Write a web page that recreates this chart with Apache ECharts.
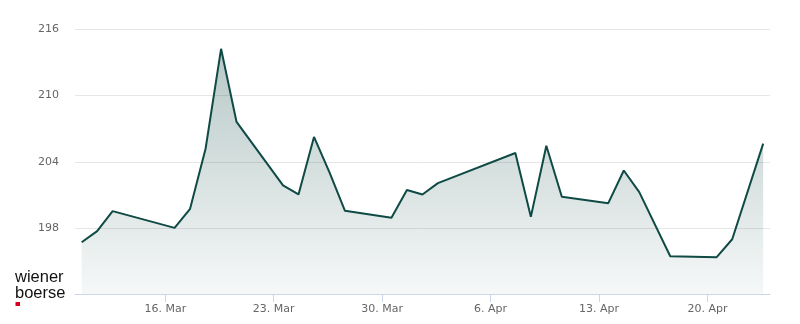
<!DOCTYPE html>
<html>
<head>
<meta charset="utf-8">
<script src="https://cdn.jsdelivr.net/npm/echarts@6/dist/echarts.min.js"></script>
<style>
html,body{margin:0;padding:0;background:#fff;}
#chart{width:800px;height:324px;}
</style>
</head>
<body>
<div id="chart"></div>
<script>
// Trading dates and closing values
const dates = [
  '2026-03-10','2026-03-11','2026-03-12',
  '2026-03-16','2026-03-17','2026-03-18','2026-03-19','2026-03-20',
  '2026-03-23','2026-03-24','2026-03-25','2026-03-26','2026-03-27',
  '2026-03-30','2026-03-31','2026-04-01','2026-04-02',
  '2026-04-07','2026-04-08','2026-04-09','2026-04-10',
  '2026-04-13','2026-04-14','2026-04-15','2026-04-17',
  '2026-04-20','2026-04-21','2026-04-23'
];
const values = [
  196.70, 197.70, 199.52,
  198.00, 199.73, 205.18, 214.25, 207.61,
  201.85, 201.03, 206.25, 203.03, 199.55,
  198.91, 201.43, 201.03, 202.06,
  204.79, 199.00, 205.45, 200.82,
  200.24, 203.21, 201.24, 195.43,
  195.34, 196.97, 205.64
];
const xTickDates = ['2026-03-16','2026-03-23','2026-03-30','2026-04-06','2026-04-13','2026-04-20'];
const yTicks = [198, 204, 210, 216];
const monthNames = ['Jan','Feb','Mar','Apr','May','Jun','Jul','Aug','Sep','Oct','Nov','Dec'];

const DAY = 86400000;
const ORIGIN = Date.UTC(2026, 2, 2); // a Monday
const CLOSE_FRACTION = 0.6; // close time of day
function dayIndex(s){ const p = s.split('-').map(Number); return (Date.UTC(p[0], p[1]-1, p[2]) - ORIGIN) / DAY; }
function fmtDay(v){ const d = new Date(ORIGIN + Math.round(v) * DAY); return d.getUTCDate() + '. ' + monthNames[d.getUTCMonth()]; }

const seriesData = dates.map((d, i) => [dayIndex(d) + CLOSE_FRACTION, values[i]]);
const xTicks = xTickDates.map(dayIndex);

const chart = echarts.init(document.getElementById('chart'), null, {renderer: 'canvas'});
chart.setOption({
  animation: false,
  backgroundColor: '#ffffff',
  grid: {left: 75, right: 30, top: 29.5, bottom: 30, containLabel: false},
  xAxis: {
    type: 'value',
    min: 8.17,
    max: 53.04,
    axisLine: {show: true, lineStyle: {color: '#ccd6eb', width: 1}},
    axisTick: {show: true, customValues: xTicks, length: 8, lineStyle: {color: '#ccd6eb'}},
    axisLabel: {customValues: xTicks, formatter: fmtDay, color: '#666666', fontSize: 11, fontFamily: 'DejaVu Sans', margin: 10},
    splitLine: {show: false}
  },
  yAxis: {
    type: 'value',
    min: 192,
    max: 216,
    interval: 6,
    axisLine: {show: false},
    axisTick: {show: false},
    axisLabel: {customValues: yTicks, color: '#666666', fontSize: 11, fontFamily: 'DejaVu Sans', margin: 16, padding: [3, 0, 0, 0]},
    splitLine: {show: true, lineStyle: {color: '#e6e6e6', width: 1}}
  },
  series: [{
    type: 'line',
    data: seriesData,
    symbol: 'none',
    lineStyle: {color: '#0f4a45', width: 2},
    areaStyle: {
      opacity: 1,
      color: new echarts.graphic.LinearGradient(0, 0, 0, 1, [
        {offset: 0, color: 'rgba(15,74,69,0.30)'},
        {offset: 1, color: 'rgba(15,74,69,0.04)'}
      ])
    },
    z: 3
  }],
  graphic: [
    {type: 'text', left: 15, top: 268.5, style: {text: 'wiener', font: '16.5px "Liberation Sans", Arial, sans-serif', fill: '#111111'}},
    {type: 'text', left: 15, top: 285, style: {text: 'boerse', font: '16.5px "Liberation Sans", Arial, sans-serif', fill: '#111111'}},
    {type: 'rect', shape: {x: 15.5, y: 302, width: 4.5, height: 4}, style: {fill: '#d9001b'}}
  ]
});
</script>
</body>
</html>
